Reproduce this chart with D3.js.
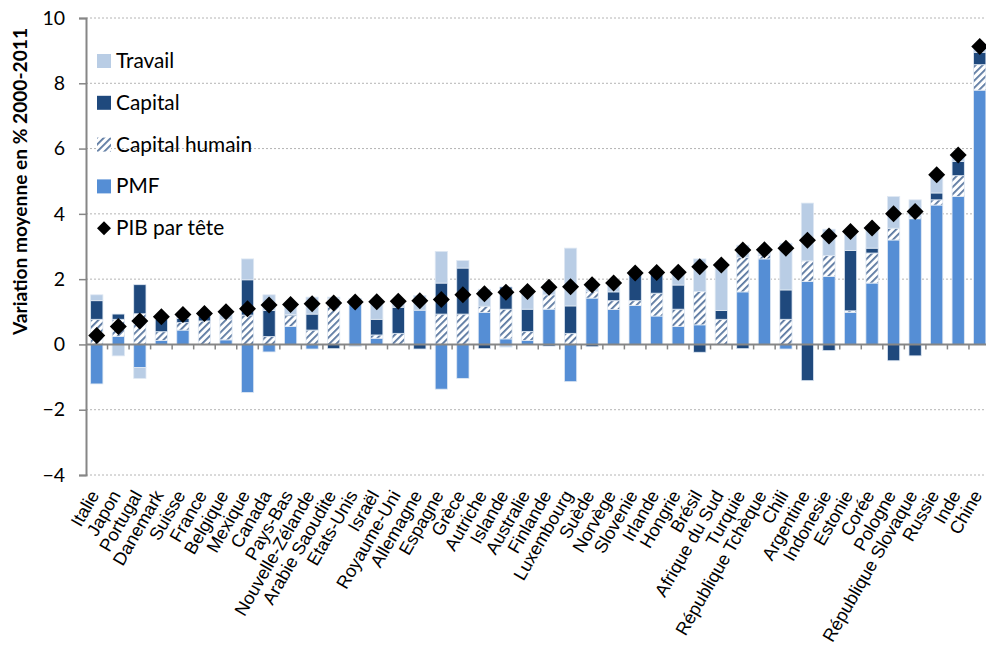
<!DOCTYPE html>
<html lang="fr">
<head>
<meta charset="utf-8">
<script src="https://cdn.jsdelivr.net/npm/d3@7"></script>
<style>
  html, body { margin: 0; padding: 0; background: #fff; }
  svg { display: block; }
</style>
</head>
<body>
<svg id="chart" width="986" height="645"></svg>
<script>
// Décomposition de la croissance du PIB par tête, 2000-2011 (variation moyenne en %)
const countries = ["Italie","Japon","Portugal","Danemark","Suisse","France","Belgique","Mexique","Canada","Pays-Bas",
  "Nouvelle-Zélande","Arabie Saoudite","Etats-Unis","Israël","Royaume-Uni","Allemagne","Espagne","Grèce","Autriche","Islande",
  "Australie","Finlande","Luxembourg","Suède","Norvège","Slovenie","Irlande","Hongrie","Brésil","Afrique du Sud",
  "Turquie","République Tchèque","Chili","Argentine","Indonesie","Estonie","Corée","Pologne","République Slovaque","Russie",
  "Inde","Chine"];

const pmf = [-1.21,0.24,-0.71,0.12,0.44,0.0,0.14,-1.47,-0.23,0.55,
  -0.14,0.0,1.38,0.19,0.0,1.05,-1.37,-1.04,0.98,0.17,
  0.12,1.08,-1.14,1.42,1.07,1.19,0.87,0.55,0.60,0.0,
  1.61,2.62,-0.14,1.93,2.08,0.98,1.88,3.20,3.85,4.27,
  4.53,7.79];
const capitalHumain = [0.77,0.53,0.94,0.27,0.23,0.72,0.63,0.90,0.24,0.33,
  0.44,1.40,0.03,0.10,0.34,0.0,0.93,0.93,0.19,0.91,
  0.28,0.44,0.34,0.20,0.27,0.15,0.70,0.53,1.02,0.77,
  1.05,0.10,0.77,0.63,0.64,0.05,0.92,0.36,0.05,0.16,
  0.64,0.78];
const capital = [0.57,0.16,0.89,0.38,0.13,0.15,0.0,1.08,0.80,0.04,
  0.49,-0.13,0.0,0.48,0.80,-0.14,0.95,1.41,-0.13,0.68,
  0.68,-0.05,0.84,-0.07,0.27,0.82,0.58,0.74,-0.24,0.27,
  -0.13,0.03,0.90,-1.11,-0.19,1.85,0.15,-0.50,-0.35,0.21,
  0.44,0.38];
const travail = [0.18,-0.35,-0.33,0.08,0.10,0.08,0.22,0.64,0.48,0.35,
  0.52,0.05,-0.06,0.55,0.18,0.45,0.97,0.23,0.52,-0.08,
  0.52,0.25,1.77,0.25,0.20,0.04,0.03,0.33,1.00,1.40,
  0.38,0.15,1.43,1.77,0.81,0.55,0.62,0.97,0.53,0.55,
  0.20,0.18];
const pibParTete = [0.27,0.55,0.72,0.85,0.92,0.95,1.00,1.09,1.21,1.22,
  1.25,1.27,1.30,1.31,1.32,1.34,1.38,1.52,1.55,1.60,
  1.62,1.75,1.77,1.83,1.88,2.19,2.20,2.21,2.38,2.43,
  2.89,2.90,2.95,3.19,3.32,3.46,3.57,4.00,4.07,5.20,
  5.80,9.13];

const yTicks = [-4,-2,0,2,4,6,8,10];
const yTitle = "Variation moyenne en % 2000-2011";

// Séries empilées, de la base vers le haut
const series = [
  { key: "PMF", label: "PMF", fill: "#558ed5" },
  { key: "CH", label: "Capital humain", fill: "url(#hatch)" },
  { key: "Capital", label: "Capital", fill: "#1f497d" },
  { key: "Travail", label: "Travail", fill: "#b9cde5" }
];

const rows = countries.map((c, i) => ({
  country: c, PMF: pmf[i], CH: capitalHumain[i], Capital: capital[i], Travail: travail[i], PIB: pibParTete[i]
}));

const svg = d3.select("#chart");
const plotLeft = 86, plotRight = 990.5, plotTop = 18, plotBottom = 475;

const x = d3.scaleBand().domain(countries).range([plotLeft, plotRight]).paddingInner(0.43).paddingOuter(0.215);
const y = d3.scaleLinear().domain([-4, 10]).range([plotBottom, plotTop]);

// Motif hachuré pour le capital humain
const defs = svg.append("defs");
const pat = defs.append("pattern").attr("id", "hatch").attr("patternUnits", "userSpaceOnUse")
  .attr("width", 5).attr("height", 5).attr("patternTransform", "rotate(45)");
pat.append("rect").attr("width", 5).attr("height", 5).attr("fill", "#ffffff");
pat.append("rect").attr("x", 0).attr("width", 1.8).attr("height", 5).attr("fill", "#58769f");

// Quadrillage pointillé
svg.append("g").selectAll("line").data(yTicks.filter(d => d !== 0)).join("line")
  .attr("x1", plotLeft).attr("x2", 986).attr("y1", d => y(d)).attr("y2", d => y(d))
  .attr("stroke", "#b4b4b4").attr("stroke-width", 1).attr("stroke-dasharray", "2,2");

// Barres empilées (positives vers le haut, négatives vers le bas)
const stacked = d3.stack().keys(series.map(s => s.key)).offset(d3.stackOffsetDiverging)(rows);
const gBars = svg.append("g");
stacked.forEach((layer, li) => {
  gBars.append("g").attr("fill", series[li].fill)
    .selectAll("rect").data(layer).join("rect")
    .attr("x", d => x(d.data.country))
    .attr("width", x.bandwidth())
    .attr("y", d => y(Math.max(d[0], d[1])))
    .attr("height", d => Math.abs(y(d[0]) - y(d[1])))
    .attr("stroke", "#dfe8f3").attr("stroke-width", 0.8);
});

// Axe horizontal à zéro avec graduations entre catégories
const gx = svg.append("g");
gx.append("line").attr("x1", plotLeft).attr("x2", 986).attr("y1", y(0)).attr("y2", y(0))
  .attr("stroke", "#868686").attr("stroke-width", 2);
gx.selectAll("line.tick").data(countries.slice(0, -1)).join("line").attr("class", "tick")
  .attr("x1", d => x(d) + x.bandwidth() + (x.step() - x.bandwidth()) / 2)
  .attr("x2", d => x(d) + x.bandwidth() + (x.step() - x.bandwidth()) / 2)
  .attr("y1", y(0)).attr("y2", y(0) + 5)
  .attr("stroke", "#868686").attr("stroke-width", 1.5);

// Axe vertical
const yAxis = d3.axisLeft(y).tickValues(yTicks).tickSize(7).tickPadding(14).tickFormat(d3.format("d"));
const gy = svg.append("g").attr("transform", `translate(${plotLeft},0)`).call(yAxis);
gy.select(".domain").attr("stroke", "#868686").attr("stroke-width", 2);
gy.selectAll(".tick line").attr("stroke", "#868686").attr("stroke-width", 1.5);
gy.selectAll(".tick text").attr("font-family", "Lato, 'Open Sans', sans-serif").attr("font-size", 19.5).attr("fill", "#000");

// Losanges : PIB par tête
const dia = 8.5;
svg.append("g").selectAll("path").data(rows).join("path")
  .attr("d", d => {
    const cx = x(d.country) + x.bandwidth() / 2, cy = y(d.PIB);
    return `M${cx},${cy - dia}L${cx + dia},${cy}L${cx},${cy + dia}L${cx - dia},${cy}Z`;
  })
  .attr("fill", "#000");

// Étiquettes des pays
svg.append("g").selectAll("text").data(countries).join("text")
  .attr("transform", d => `translate(${x(d) + x.bandwidth() / 2 + 3},${495}) rotate(-60)`)
  .attr("text-anchor", "end")
  .attr("font-family", "'Liberation Sans', Arial, sans-serif")
  .attr("font-size", 18).attr("fill", "#000")
  .text(d => d);

// Titre de l'axe vertical
svg.append("text")
  .attr("transform", `translate(27,181.5) rotate(-90)`)
  .attr("text-anchor", "middle")
  .attr("font-family", "Lato, 'Open Sans', sans-serif")
  .attr("font-weight", "bold").attr("font-size", 18.5).attr("fill", "#000")
  .attr("textLength", 307).attr("lengthAdjust", "spacingAndGlyphs")
  .text(yTitle);

// Légende
const legendItems = [
  { label: "Travail", type: "rect", fill: "#b9cde5" },
  { label: "Capital", type: "rect", fill: "#1f497d" },
  { label: "Capital humain", type: "rect", fill: "url(#hatch)" },
  { label: "PMF", type: "rect", fill: "#558ed5" },
  { label: "PIB par tête", type: "diamond", fill: "#000" }
];
const lg = svg.append("g");
legendItems.forEach((it, i) => {
  const cy = 61 + i * 41.8;
  if (it.type === "rect") {
    lg.append("rect").attr("x", 97).attr("y", cy - 7).attr("width", 14).attr("height", 14).attr("fill", it.fill);
  } else {
    const r = 7;
    lg.append("path").attr("d", `M104,${cy - r}L${104 + r},${cy}L104,${cy + r}L${104 - r},${cy}Z`).attr("fill", it.fill);
  }
  lg.append("text").attr("x", 116).attr("y", cy + 7)
    .attr("font-family", "Lato, 'Open Sans', sans-serif").attr("font-size", 20.8).attr("fill", "#000")
    .text(it.label);
});
</script>
</body>
</html>
